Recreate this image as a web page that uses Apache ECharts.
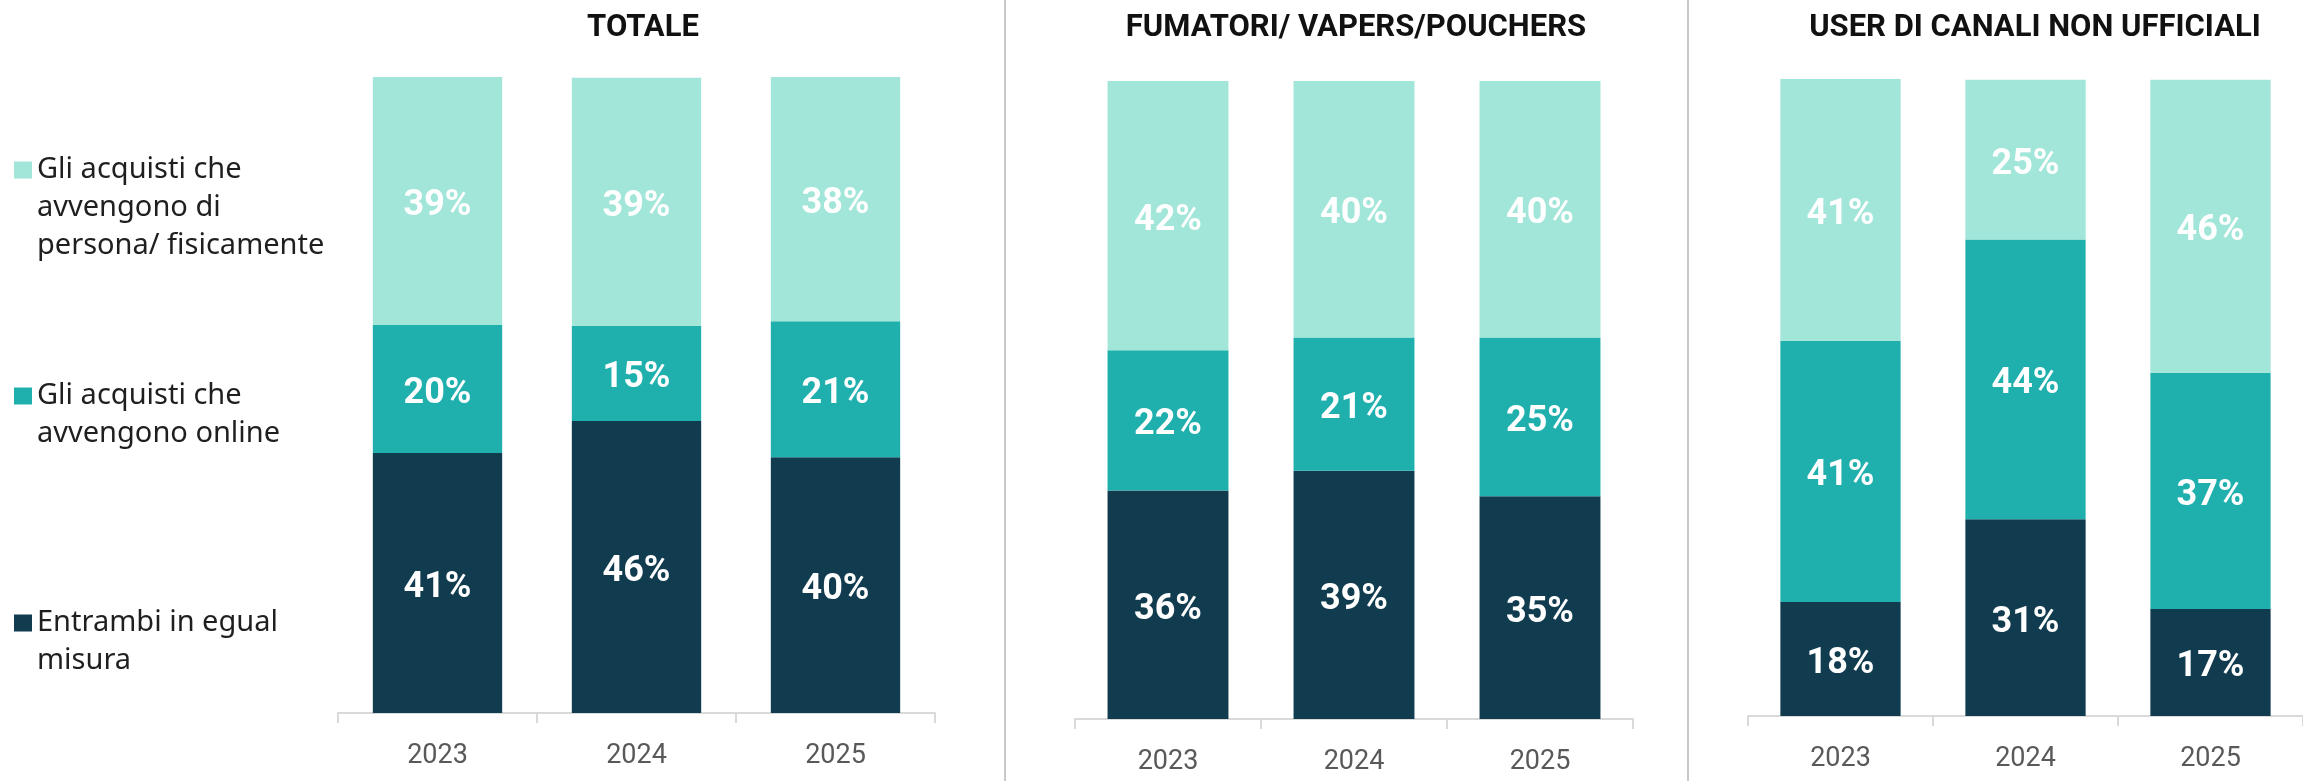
<!DOCTYPE html>
<html>
<head>
<meta charset="utf-8">
<script src="https://cdn.jsdelivr.net/npm/echarts@6/dist/echarts.min.js"></script>
<style>
    html, body { margin: 0; padding: 0; background: #ffffff; }
    #chart { width: 2303px; height: 781px; }
</style>
</head>
<body>
<div id="chart"></div>
<script>
    // categorie e serie (etichette arrotondate)
    const years = ['2023', '2024', '2025'];
    const panelTitles = ['TOTALE', 'FUMATORI/ VAPERS/POUCHERS', 'USER DI CANALI NON UFFICIALI'];
    const seriesNames = ['Entrambi in egual misura', 'Gli acquisti che avvengono online', 'Gli acquisti che avvengono di persona/ fisicamente'];
    const legendLines = [
        ['Entrambi in egual', 'misura'],
        ['Gli acquisti che', 'avvengono online'],
        ['Gli acquisti che', 'avvengono di', 'persona/ fisicamente']
    ];

    const totaleEntrambi = [40.9, 45.9, 40.2];
    const totaleOnline = [20.1, 15.0, 21.4];
    const totaleFisico = [39.0, 39.0, 38.4];

    const fumatoriEntrambi = [35.8, 38.9, 34.9];
    const fumatoriOnline = [22.0, 20.9, 24.9];
    const fumatoriFisico = [42.2, 40.2, 40.2];

    const userEntrambi = [17.9, 30.9, 16.8];
    const userOnline = [41.0, 43.9, 37.1];
    const userFisico = [41.1, 25.1, 46.0];

    const colors = ['#113c4f', '#1fb0ae', '#a1e6d9'];

    let myChart = echarts.init(document.getElementById('chart'));

    let panels = [
        {title: panelTitles[0], center: 638, grid: {left: 338, width: 597, top: 77, height: 636}, data: [totaleEntrambi, totaleOnline, totaleFisico]},
        {title: panelTitles[1], center: 1351, grid: {left: 1075, width: 558, top: 81, height: 638}, data: [fumatoriEntrambi, fumatoriOnline, fumatoriFisico]},
        {title: panelTitles[2], center: 2030, grid: {left: 1748, width: 568, top: 79, height: 637}, data: [userEntrambi, userOnline, userFisico]}
    ];

    let grids = [], xAxes = [], yAxes = [], titles = [], series = [];
    panels.forEach((p, i) => {
        grids.push(p.grid);
        titles.push({
            text: p.title,
            left: p.center,
            top: 8,
            textAlign: 'center',
            textStyle: {fontFamily: 'Roboto', fontWeight: 'bold', fontSize: 31, color: '#111111'}
        });
        xAxes.push({
            type: 'category',
            gridIndex: i,
            data: years,
            axisLine: {lineStyle: {color: '#d9d9d9', width: 2}},
            axisTick: {show: true, length: 10, lineStyle: {color: '#d9d9d9', width: 2}},
            axisLabel: {fontFamily: 'Roboto', fontSize: 27, color: '#595959', margin: 30}
        });
        yAxes.push({type: 'value', gridIndex: i, min: 0, max: 100, show: false});
        p.data.forEach((vals, k) => {
            series.push({
                name: seriesNames[k],
                type: 'bar',
                stack: 'p' + i,
                xAxisIndex: i,
                yAxisIndex: i,
                barCategoryGap: '35%',
                data: vals,
                itemStyle: {color: colors[k]},
                label: {
                    show: true,
                    position: 'inside',
                    offset: [0, 5],
                    fontFamily: 'Roboto',
                    fontWeight: 'bold',
                    fontSize: 36,
                    color: '#ffffff',
                    formatter: (d) => Math.round(d.value) + '%'
                }
            });
        });
    });

    // legenda: righe vuote davanti al testo, cosi' l'icona cade sulla prima riga
    let legendTops = [566, 339, 75];
    let legends = seriesNames.map((name, k) => {
        let lines = legendLines[k];
        let blank = new Array(lines.length - 1).fill('');
        return {
            data: [name],
            left: 14,
            top: legendTops[k],
            padding: 0,
            orient: 'vertical',
            icon: 'rect',
            itemWidth: 18,
            itemHeight: 17,
            selectedMode: false,
            formatter: () => blank.concat(lines).join('\n'),
            textStyle: {
                fontFamily: 'Noto Sans',
                fontSize: 29,
                lineHeight: 38,
                color: '#1f1f1f'
            }
        };
    });

    let option = {
        animation: false,
        color: colors,
        title: titles,
        legend: legends,
        grid: grids,
        xAxis: xAxes,
        yAxis: yAxes,
        series: series,
        graphic: [
            {type: 'line', shape: {x1: 1005, y1: 0, x2: 1005, y2: 781}, style: {stroke: '#c9c9c9', lineWidth: 2}},
            {type: 'line', shape: {x1: 1688, y1: 0, x2: 1688, y2: 781}, style: {stroke: '#c9c9c9', lineWidth: 2}}
        ]
    };
    myChart.setOption(option);
</script>
</body>
</html>
